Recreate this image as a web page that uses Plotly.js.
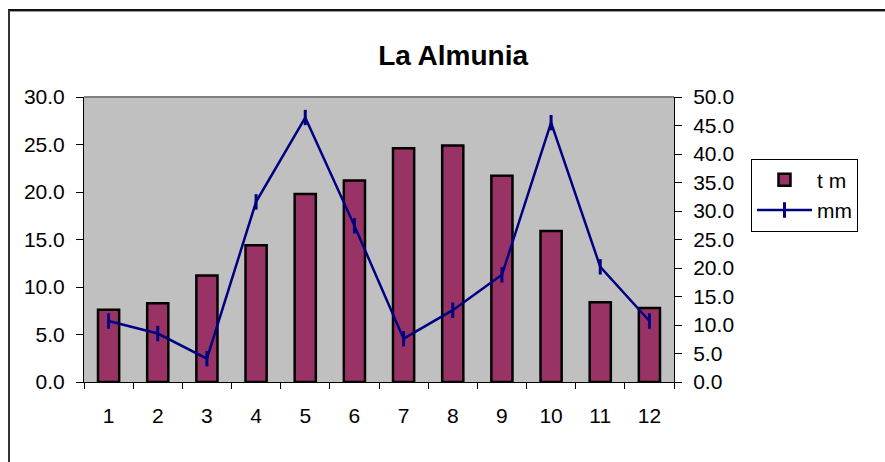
<!DOCTYPE html>
<html>
<head>
<meta charset="utf-8">
<script src="https://cdn.plot.ly/plotly-3.0.1.min.js"></script>
<style>
  html, body { margin: 0; padding: 0; background: #ffffff; overflow: hidden; }
  #wrap { position: relative; width: 885px; height: 462px; }
  #chart { position: absolute; left: 0; top: 0; width: 885px; height: 462px; }
  #frame { position: absolute; left: 8px; top: 9px; width: 900px; height: 480px;
           border-left: 2px solid #333333; border-top: 2px solid #111111;
           box-shadow: inset 0 1px 0 #9a9a9a; pointer-events: none; }
</style>
</head>
<body>
<div id="wrap">
  <div id="chart"></div>
  <div id="frame"></div>
</div>
<script>
// Data
const months = ["1", "2", "3", "4", "5", "6", "7", "8", "9", "10", "11", "12"];
const tempMean = [7.6, 8.3, 11.2, 14.4, 19.8, 21.2, 24.6, 24.9, 21.7, 15.9, 8.4, 7.8];   // t m (left axis)
const precipMM = [10.7, 8.5, 4.1, 31.6, 46.4, 27.4, 7.6, 12.6, 18.8, 45.5, 20.2, 10.7];   // mm (right axis)
const seriesNames = ["t m", "mm"];
const chartTitle = "La Almunia";

const FONT = "Liberation Sans, Arial, sans-serif";
const TICKSIZE = 21;

const traces = [
  {
    type: "bar",
    name: seriesNames[0],
    x: months,
    y: tempMean,
    yaxis: "y",
    marker: { color: "#993366", line: { color: "#000000", width: 2.5 } },
    hoverinfo: "x+y"
  },
  {
    type: "scatter",
    mode: "lines+markers",
    name: seriesNames[1],
    x: months,
    y: precipMM,
    yaxis: "y2",
    line: { color: "#000080", width: 2.5 },
    marker: { symbol: "line-ns", size: 11, color: "#000080",
              line: { color: "#000080", width: 3 } },
    hoverinfo: "x+y"
  }
];

const layout = {
  width: 885,
  height: 462,
  paper_bgcolor: "#ffffff",
  plot_bgcolor: "#c0c0c0",
  margin: { l: 84, r: 211, t: 97, b: 80, pad: 0 },
  font: { family: FONT, size: TICKSIZE, color: "#000000" },
  title: {
    text: "<b>" + chartTitle + "</b>",
    font: { family: FONT, size: 28, color: "#000000" },
    xref: "container", yref: "container",
    x: 0.512, xanchor: "center",
    y: 0.881, yanchor: "middle"
  },
  bargap: 0.57,
  showlegend: true,
  legend: {
    x: 1.1305, xanchor: "left",
    y: 0.784, yanchor: "top",
    bgcolor: "#ffffff",
    bordercolor: "#000000",
    borderwidth: 1,
    font: { family: FONT, size: TICKSIZE, color: "#000000" },
    itemwidth: 55,
    tracegroupgap: 0
  },
  xaxis: {
    type: "category",
    range: [-0.5, 11.5],
    autorange: false,
    tickson: "boundaries",
    ticks: "outside",
    ticklen: 6,
    tickcolor: "#000000",
    showline: true,
    linecolor: "#000000",
    linewidth: 1,
    showgrid: false,
    zeroline: false,
    ticklabelstandoff: 15,
    tickfont: { family: FONT, size: TICKSIZE, color: "#000000" },
    fixedrange: true
  },
  yaxis: {
    range: [0, 30],
    autorange: false,
    dtick: 5,
    tick0: 0,
    tickformat: ".1f",
    ticks: "outside",
    ticklen: 7,
    tickcolor: "#000000",
    showline: true,
    linecolor: "#000000",
    linewidth: 1,
    showgrid: false,
    zeroline: false,
    ticklabelstandoff: 7,
    tickfont: { family: FONT, size: TICKSIZE, color: "#000000" },
    fixedrange: true
  },
  yaxis2: {
    overlaying: "y",
    side: "right",
    range: [0, 50],
    autorange: false,
    dtick: 5,
    tick0: 0,
    tickformat: ".1f",
    ticks: "outside",
    ticklen: 7,
    tickcolor: "#000000",
    showline: true,
    linecolor: "#000000",
    linewidth: 1,
    showgrid: false,
    zeroline: false,
    ticklabelstandoff: 7,
    tickfont: { family: FONT, size: TICKSIZE, color: "#000000" },
    fixedrange: true
  },
  shapes: [
    { type: "line", xref: "paper", yref: "paper", x0: 0, x1: 1, y0: 1, y1: 1,
      line: { color: "#808080", width: 2 }, layer: "above" }
  ]
};

Plotly.newPlot("chart", traces, layout, { staticPlot: true, displayModeBar: false });
</script>
</body>
</html>
